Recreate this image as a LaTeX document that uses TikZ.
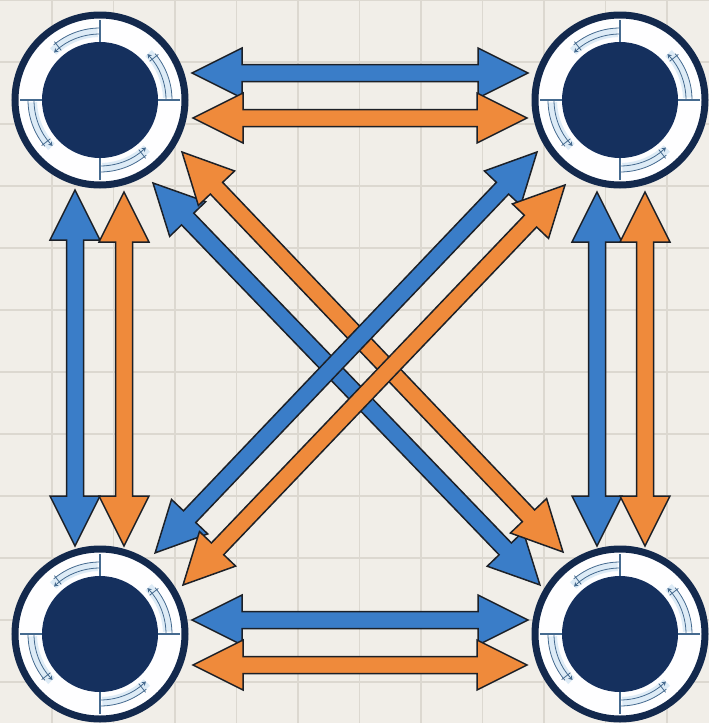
\documentclass[tikz,border=0pt]{standalone}
\usetikzlibrary{calc,arrows.meta}
\definecolor{bg}{HTML}{F1EEE8}
\definecolor{gridc}{HTML}{DCD8D0}
\definecolor{navy}{HTML}{13294D}
\definecolor{core}{HTML}{15305E}
\definecolor{ablue}{HTML}{3A7DC8}
\definecolor{aorange}{HTML}{EF8A3B}
\definecolor{outl}{HTML}{1C2027}
\definecolor{tickc}{HTML}{456A8F}
\definecolor{paleb}{HTML}{DDEBF6}
\newcommand\dblarrow[3]{%
  \pgfpointdiff{\pgfpointanchor{#2}{center}}{\pgfpointanchor{#3}{center}}%
  \pgfgetlastxy{\adx}{\ady}%
  \pgfmathsetmacro\aang{atan2(\ady,\adx)}%
  \pgfmathsetmacro\alen{veclen(\adx,\ady)}%
  \pgfmathsetmacro\aback{\alen-50}%
  \begin{scope}[shift={(#2)}, rotate=\aang]
    \draw[#1] (0,0) -- (50,25) -- (50,8.5) -- (\aback,8.5) -- (\aback,25) -- (\alen,0)
      -- (\aback,-25) -- (\aback,-8.5) -- (50,-8.5) -- (50,-25) -- cycle;
  \end{scope}}
\tikzset{
  arrowbody/.style={draw=outl, line width=1.5pt, line join=miter},
  bluearr/.style={arrowbody, fill=ablue},
  orangearr/.style={arrowbody, fill=aorange},
  hub/.style={circle, minimum size=170pt, inner sep=0pt, draw=navy, line width=7pt, fill=white!97!paleb},
  gridline/.style={gridc, line width=1.2pt},
  ringline/.style={tickc, line width=0.8pt},
}
\begin{document}
\begin{tikzpicture}[x=1pt,y=-1pt]
\fill[bg] (0,0) rectangle (709,723);
\useasboundingbox (0,0) rectangle (709,723);
\foreach \x in {52,113.5,...,709} \draw[gridline] (\x,0) -- (\x,723);
\foreach \y in {0,62,...,723} \draw[gridline] (0,\y) -- (709,\y);

% arrow end points
\coordinate (tb1) at (192,73);  \coordinate (tb2) at (528,73);
\coordinate (to1) at (193,118); \coordinate (to2) at (527,118);
\coordinate (bb1) at (192,620); \coordinate (bb2) at (528,620);
\coordinate (bo1) at (193,665); \coordinate (bo2) at (527,665);
\coordinate (lb1) at (75,190);  \coordinate (lb2) at (75,546);
\coordinate (lo1) at (124,192); \coordinate (lo2) at (124,546);
\coordinate (rb1) at (597,192); \coordinate (rb2) at (597,546);
\coordinate (ro1) at (645,192); \coordinate (ro2) at (645,546);
\coordinate (db1) at (153,183); \coordinate (db2) at (540,585);
\coordinate (do1) at (182,152); \coordinate (do2) at (563,552);
\coordinate (ab1) at (537,152); \coordinate (ab2) at (155,553);
\coordinate (ao1) at (565,185); \coordinate (ao2) at (183,585);

\dblarrow{bluearr}{tb1}{tb2}
\dblarrow{orangearr}{to1}{to2}
\dblarrow{bluearr}{bb1}{bb2}
\dblarrow{orangearr}{bo1}{bo2}
\dblarrow{bluearr}{lb1}{lb2}
\dblarrow{orangearr}{lo1}{lo2}
\dblarrow{bluearr}{rb1}{rb2}
\dblarrow{orangearr}{ro1}{ro2}
\dblarrow{bluearr}{db1}{db2}
\dblarrow{orangearr}{do1}{do2}
\dblarrow{bluearr}{ab1}{ab2}
\dblarrow{orangearr}{ao1}{ao2}

% hubs
\node[hub] (tl) at (100,100) {};
\node[hub] (tr) at (620,100) {};
\node[hub] (bl) at (100,634) {};
\node[hub] (br) at (620,634) {};
\foreach \c in {tl,tr,bl,br}{
  \foreach \a in {0,90,180,270}{
    \fill[paleb] ($(\c)+(\a+2:63pt)$) arc[start angle=\a+2, end angle=\a+44, radius=63pt]
      -- ($(\c)+(\a+44:72pt)$) arc[start angle=\a+44, end angle=\a+2, radius=72pt] -- cycle;
    \draw[ringline] ($(\c)+(\a:72pt)$) arc[start angle=\a, end angle=\a+40, radius=72pt];
    \draw[ringline, -{Stealth[length=4pt,width=5pt]}] ($(\c)+(\a:66pt)$) arc[start angle=\a, end angle=\a+44, radius=66pt];
    \draw[ringline] ($(\c)+(\a+38:63pt)$) -- ($(\c)+(\a+38:74pt)$);
    \draw[tickc, line width=1.3pt] ($(\c)+(\a:57pt)$) -- ($(\c)+(\a:80pt)$);
  }
  \fill[core] (\c) circle[radius=58pt];
}
\end{tikzpicture}
\end{document}
